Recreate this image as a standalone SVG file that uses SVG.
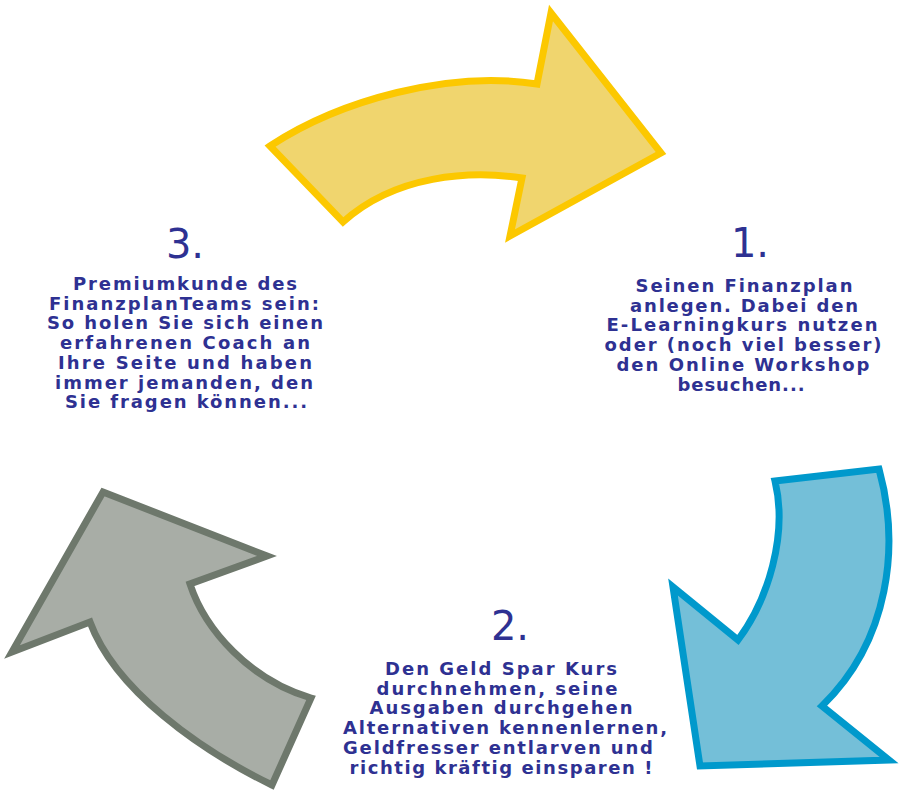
<svg xmlns="http://www.w3.org/2000/svg" width="899" height="795" viewBox="0 0 899 795">
<style>
.arrow{stroke-width:7;stroke-linejoin:miter;stroke-miterlimit:10}
.yellow{fill:#f0d56e;stroke:#fcc800}
.blue{fill:#74bfd8;stroke:#0099cc}
.gray{fill:#a8ada6;stroke:#6e786c}
.num{font-family:"DejaVu Sans",Verdana,sans-serif;font-size:40px;fill:#2e3192;text-anchor:middle}
.body{font-family:"DejaVu Sans",Verdana,sans-serif;font-size:18px;font-weight:bold;fill:#2e3192;text-anchor:middle}
</style>
<rect width="899" height="795" fill="#ffffff"/>
<g id="connectors">
<path id="arrow-yellow" class="arrow yellow" d="M270,146 C340,100 450,70 537,84 L551,13 L661,153 L510,236 L522,178 C470,170 395,175 343,222 Z"/>
<path id="arrow-blue" class="arrow blue" d="M775,481 L879,469 C900,545 890,640 822,706 L889,760 L700,766 L673,587 L738,640 C768,600 788,535 775,481 Z"/>
<path id="arrow-gray" class="arrow gray" d="M103,492 L267,556 L190,584 C205,630 250,680 311,698 L272,785 C200,750 115,690 90,622 L12,652 Z"/>
</g>
<g id="node-3">
<text class="num" x="185" y="258">3.</text>
<text class="body" y="290"><tspan x="185" textLength="224" lengthAdjust="spacing">Premiumkunde des</tspan><tspan x="184" dy="19.7" textLength="270" lengthAdjust="spacing">FinanzplanTeams sein:</tspan><tspan x="185" dy="19.7" textLength="276" lengthAdjust="spacing">So holen Sie sich einen</tspan><tspan x="185" dy="19.7" textLength="250" lengthAdjust="spacing">erfahrenen Coach an</tspan><tspan x="185" dy="19.7" textLength="254" lengthAdjust="spacing">Ihre Seite und haben</tspan><tspan x="184" dy="19.7" textLength="258" lengthAdjust="spacing">immer jemanden, den</tspan><tspan x="186" dy="19.7" textLength="242" lengthAdjust="spacing">Sie fragen können...</tspan></text>
</g>
<g id="node-1">
<text class="num" x="750" y="257">1.</text>
<text class="body" y="292"><tspan x="744" textLength="217" lengthAdjust="spacing">Seinen Finanzplan</tspan><tspan x="744" dy="19.7" textLength="228" lengthAdjust="spacing">anlegen. Dabei den</tspan><tspan x="742" dy="19.7" textLength="271" lengthAdjust="spacing">E-Learningkurs nutzen</tspan><tspan x="743" dy="19.7" textLength="277" lengthAdjust="spacing">oder (noch viel besser)</tspan><tspan x="743" dy="19.7" textLength="253" lengthAdjust="spacing">den Online Workshop</tspan><tspan x="741" dy="19.7" textLength="127" lengthAdjust="spacing">besuchen...</tspan></text>
</g>
<g id="node-2">
<text class="num" x="510" y="640">2.</text>
<text class="body" y="675"><tspan x="501" textLength="232" lengthAdjust="spacing">Den Geld Spar Kurs</tspan><tspan x="497" dy="19.7" textLength="241" lengthAdjust="spacing">durchnehmen, seine</tspan><tspan x="501" dy="19.7" textLength="263" lengthAdjust="spacing">Ausgaben durchgehen</tspan><tspan x="505" dy="19.7" textLength="324" lengthAdjust="spacing">Alternativen kennenlernen,</tspan><tspan x="498" dy="19.7" textLength="310" lengthAdjust="spacing">Geldfresser entlarven und</tspan><tspan x="501" dy="19.7" textLength="303" lengthAdjust="spacing">richtig kräftig einsparen !</tspan></text>
</g>
</svg>
